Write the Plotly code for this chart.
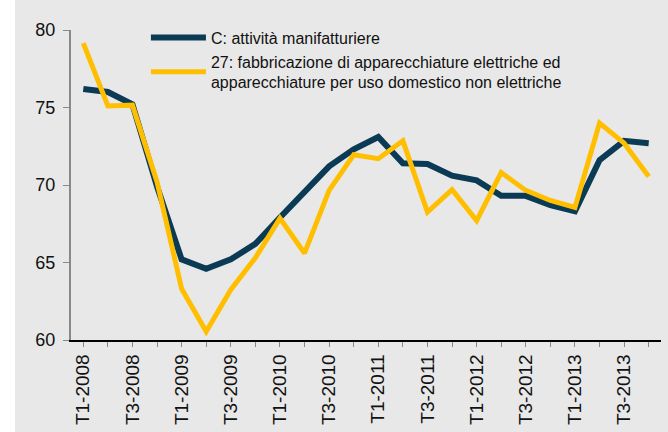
import plotly.graph_objects as go

quarters = [f"T{q}-{y}" for y in range(2008, 2014) for q in range(1, 5)]

manifatturiere = [76.2, 76.0, 75.2, 69.9, 65.2, 64.6, 65.2, 66.2,
                  67.9, 69.6, 71.2, 72.3, 73.1, 71.4, 71.35, 70.6,
                  70.3, 69.3, 69.3, 68.7, 68.3, 71.6, 72.85, 72.7]

elettriche = [79.15, 75.1, 75.15, 70.2, 63.3, 60.55, 63.25, 65.3,
              67.85, 65.6, 69.65, 71.95, 71.7, 72.85, 68.25, 69.7,
              67.7, 70.8, 69.65, 69.0, 68.55, 74.0, 72.7, 70.55]

tick_text = [q if q.startswith(("T1", "T3")) else "" for q in quarters]

fig = go.Figure()

fig.add_trace(go.Scatter(
    x=quarters, y=manifatturiere, mode="lines",
    name="C: attività manifatturiere",
    line=dict(color="#0b3a55", width=6),
))

fig.add_trace(go.Scatter(
    x=quarters, y=elettriche, mode="lines",
    name="27: fabbricazione di apparecchiature elettriche ed<br>apparecchiature per uso domestico non elettriche",
    line=dict(color="#ffbf00", width=5),
))

# white strip on the far left
fig.add_shape(type="rect", xref="paper", yref="paper",
              x0=-0.125, x1=-0.0949, y0=-0.4, y1=1.15,
              fillcolor="white", line_width=0, layer="above")

fig.update_layout(
    width=668, height=432,
    margin=dict(l=71, r=7, t=30, b=90),
    paper_bgcolor="#e8e8e8",
    plot_bgcolor="#e8e8e8",
    font=dict(family="Liberation Sans, Arial", color="#111111", size=16),
    showlegend=True,
    legend=dict(
        x=0.127, y=1.03, xanchor="left", yanchor="top",
        bgcolor="rgba(0,0,0,0)", font=dict(size=16),
        tracegroupgap=0, itemwidth=55,
    ),
    xaxis=dict(
        type="category", range=[-0.5, 23.5],
        tickvals=quarters, ticktext=tick_text, tickangle=-90,
        ticks="outside", ticklen=5, tickcolor="#888888",
        showline=True, linecolor="#000000", linewidth=1.5,
        showgrid=False, zeroline=False,
        tickfont=dict(size=19),
    ),
    yaxis=dict(
        range=[60, 80], dtick=5,
        ticks="outside", ticklen=6, tickcolor="#888888",
        showline=True, linecolor="#888888", linewidth=2,
        showgrid=False, zeroline=False,
        tickfont=dict(size=18), ticklabelstandoff=4,
    ),
)

fig.write_html("out.html", config={"displayModeBar": False},
               post_script="document.body.style.margin='0';")
